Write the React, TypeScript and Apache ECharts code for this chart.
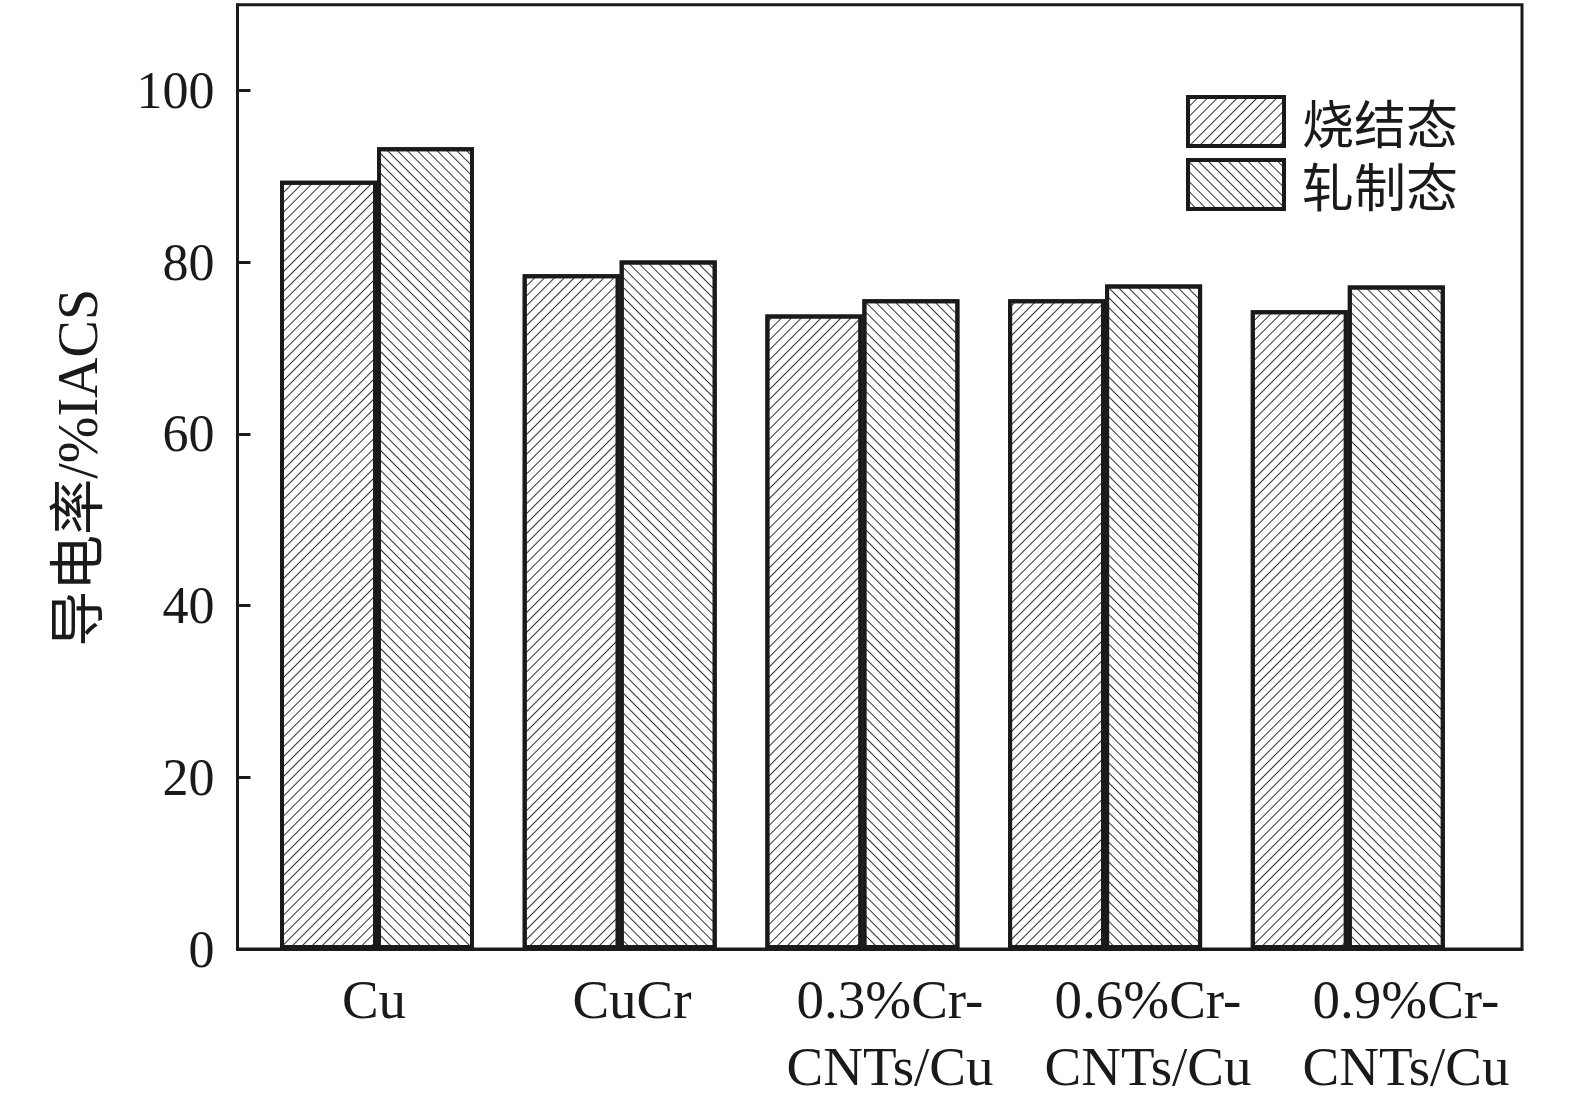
import React, { useEffect, useRef } from 'react';
import * as echarts from 'echarts';

const categories = ['Cu', 'CuCr', '0.3%Cr-\nCNTs/Cu', '0.6%Cr-\nCNTs/Cu', '0.9%Cr-\nCNTs/Cu'];
const sintered = [89.5, 78.6, 73.9, 75.7, 74.4];
const rolled = [93.4, 80.2, 75.7, 77.4, 77.3];
const seriesNames = ['烧结态', '轧制态'];
const yAxisName = '导电率/%IACS';
const yMin = 0;
const yMax = 110;
const yInterval = 20;

const SERIF = "'Liberation Serif', 'Times New Roman', 'Noto Sans CJK SC', serif";
const CJK = "'Noto Sans CJK SC', sans-serif";
const INK = '#1a1a1a';

const TOP = 4.7;
const BOTTOM = 159;

export default function App() {
  const ref = useRef<HTMLDivElement>(null);
  useEffect(() => {
    document.body.style.margin = '0';
    if (!ref.current) return;
    const chart = echarts.init(ref.current, undefined, { renderer: 'svg' });
    const decal = (rot: number) => ({
      symbol: 'rect',
      symbolSize: 1,
      dashArrayX: [1, 0],
      dashArrayY: [1, 5.5],
      rotation: rot,
      color: '#333',
      backgroundColor: '#fff',
    });
    chart.setOption({
      animation: false,
      backgroundColor: '#fff',
      grid: [
        { left: 237.5, width: 1284.5, top: TOP, bottom: BOTTOM, show: true, borderColor: INK, borderWidth: 3, backgroundColor: 'transparent' },
        { left: 255.65, width: 1213.5, top: TOP, bottom: BOTTOM },
        { left: 245, width: 1290, top: TOP, bottom: BOTTOM },
      ],
      xAxis: [
        {
          gridIndex: 0, type: 'category', data: categories,
          axisLine: { show: true, lineStyle: { color: INK, width: 3 } },
          axisTick: { show: false }, axisLabel: { show: false }, splitLine: { show: false },
        },
        { gridIndex: 1, type: 'category', data: categories, show: false },
        {
          gridIndex: 2, type: 'category', data: categories,
          axisLine: { show: false }, axisTick: { show: false }, splitLine: { show: false },
          axisLabel: {
            show: true, fontSize: 55, fontFamily: SERIF, color: INK, lineHeight: 67, margin: 17,
            interval: 0,
          },
        },
      ],
      yAxis: [
        {
          gridIndex: 0, type: 'value', min: yMin, max: yMax, interval: yInterval,
          axisLine: { show: true, lineStyle: { color: INK, width: 3 } },
          axisTick: { show: true, inside: true, length: 13, lineStyle: { color: INK, width: 3 } },
          axisLabel: { fontSize: 52, fontFamily: SERIF, color: INK, margin: 23, showMaxLabel: false },
          splitLine: { show: false },
          name: yAxisName, nameLocation: 'middle', nameGap: 132,
          nameTextStyle: { fontSize: 56, fontFamily: SERIF, color: INK, padding: [0, 0, 0, 18] },
        },
        { gridIndex: 1, type: 'value', min: yMin, max: yMax, interval: yInterval, show: false },
        { gridIndex: 2, type: 'value', min: yMin, max: yMax, interval: yInterval, show: false },
      ],
      legend: {
        data: seriesNames,
        orient: 'vertical',
        left: 1186, top: 93.5, padding: 0,
        itemWidth: 96, itemHeight: 49, itemGap: 7,
        icon: 'rect',
        itemStyle: { borderWidth: 4, borderColor: INK },
        textStyle: { fontSize: 52, lineHeight: 40, fontFamily: CJK, color: INK, padding: [0, 0, 16, 13] },
      },
      series: [
        {
          name: seriesNames[0], type: 'bar', xAxisIndex: 1, yAxisIndex: 1,
          data: sintered, barWidth: 97, barGap: '0%',
          itemStyle: { color: '#fff', borderColor: INK, borderWidth: 4, decal: decal(-Math.PI / 4) },
        },
        {
          name: seriesNames[1], type: 'bar', xAxisIndex: 1, yAxisIndex: 1,
          data: rolled, barWidth: 97, barGap: '0%',
          itemStyle: { color: '#fff', borderColor: INK, borderWidth: 4, decal: decal(Math.PI / 4) },
        },
      ],
    });
    return () => chart.dispose();
  }, []);
  return <div ref={ref} style={{ position: 'absolute', left: 0, top: 0, width: 1575, height: 1108 }} />;
}
